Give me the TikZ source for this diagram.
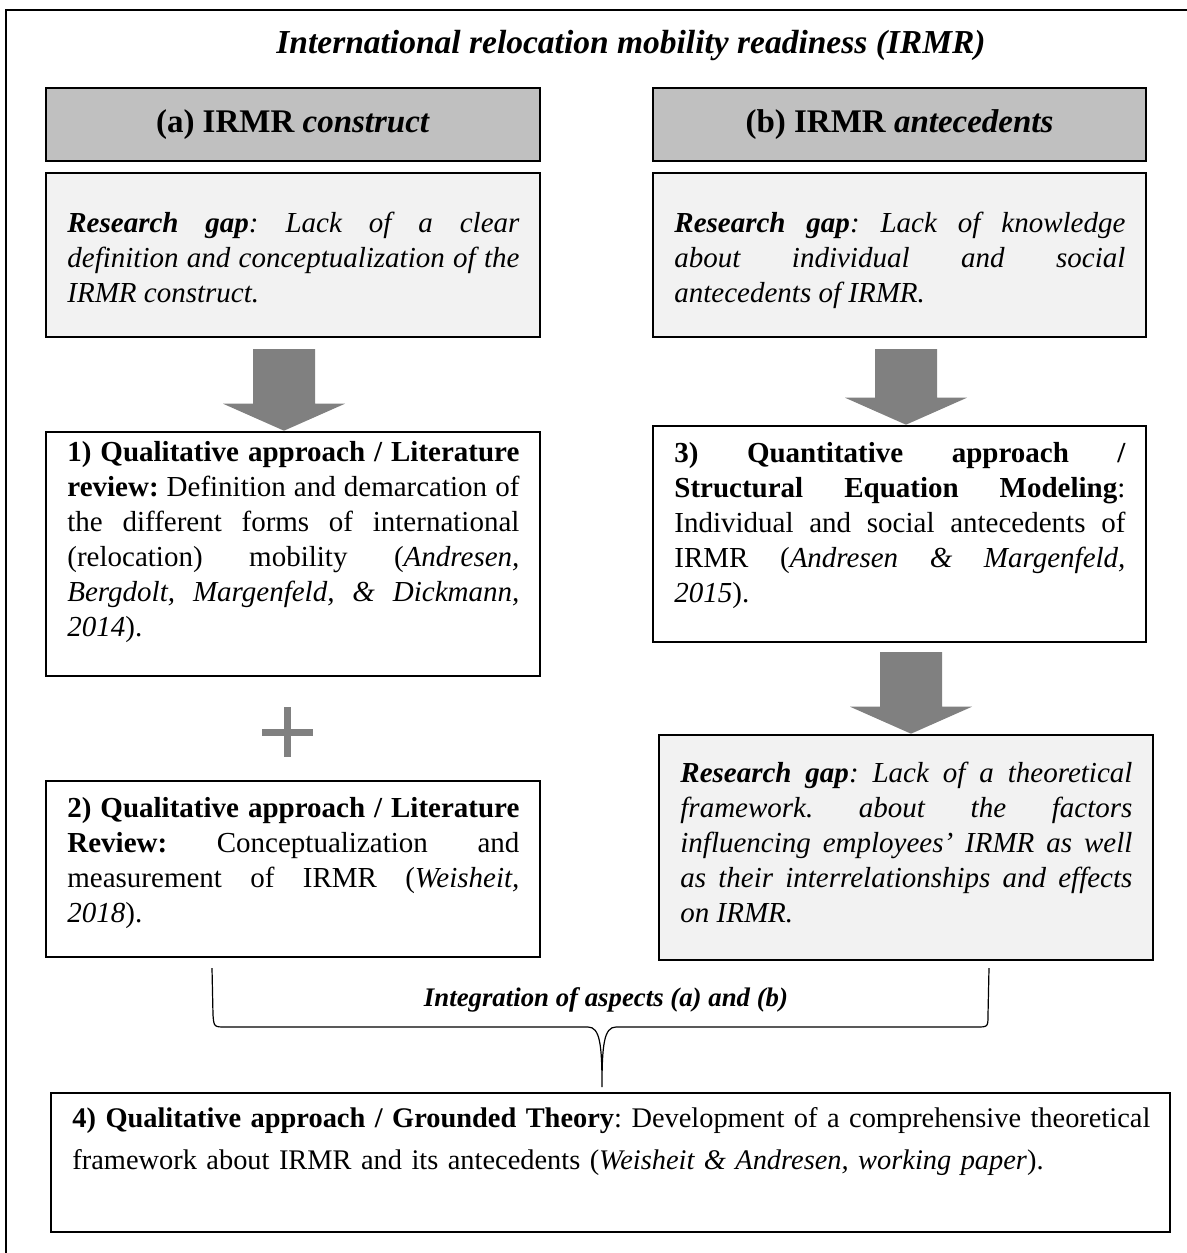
\documentclass[tikz,border=0pt]{standalone}
\usepackage{fontspec}
\setmainfont{Liberation Serif}
\usetikzlibrary{fit,calc}
\definecolor{headgray}{RGB}{192,192,192}
\definecolor{gapgray}{RGB}{242,242,242}
\definecolor{arrowgray}{RGB}{128,128,128}

\tikzset{
  panel/.style={draw=black, line width=1.3pt, inner sep=0pt},
  headbox/.style={panel, fill=headgray},
  gapbox/.style={panel, fill=gapgray},
  plainbox/.style={panel, fill=white},
  bodytext/.style={inner sep=0pt, anchor=base west, align=justify,
    font=\fontsize{14.5}{17.5}\selectfont,
    execute at begin node={\frenchspacing\hyphenpenalty=10000\tolerance=9999\emergencystretch=2em}},
  headtext/.style={inner sep=0pt, font=\fontsize{16.5}{20}\selectfont\bfseries},
  blockarrow/.style={fill=arrowgray, draw=none},
}

% block arrow pointing down from a top-centre coordinate to a tip coordinate
\newcommand\downblock[2]{%
  \fill[blockarrow] ($(#1)+(-31,0)$) -- ($(#1)+(31,0)$) -- ($(#2)+(31,-27)$)
    -- ($(#2)+(61,-27)$) -- (#2) -- ($(#2)+(-61,-27)$) -- ($(#2)+(-31,-27)$) -- cycle;}

\begin{document}
\begin{tikzpicture}[x=0.5pt,y=-0.5pt]
\useasboundingbox (0,0) rectangle (1187,1253);

% outer frame
\draw[line width=1.3pt] (6,10) rectangle (1210,1275);

% title
\node[anchor=base, inner sep=0pt, font=\fontsize{16.75}{20}\selectfont\bfseries\itshape] (title) at (631,53)
  {International relocation mobility readiness (IRMR)};

% column headers
\node[headbox, fit={(46,88) (540,161)}] (ha) {};
\node[headtext] (hat) at (ha.center) {(a) IRMR \textit{construct}};
\node[headbox, fit={(653,88) (1146,161)}] (hb) {};
\node[headtext] (hbt) at (hb.center) {(b) IRMR \textit{antecedents}};

% research gap boxes
\node[gapbox, fit={(46,173) (540,337)}] (ga) {};
\node[bodytext, text width=226pt] (gat) at (67,232)
  {\textbf{\textit{Research gap}}\textit{: Lack of a clear\linebreak
   definition and conceptualization of the\linebreak IRMR construct.}};

\node[gapbox, fit={(653,173) (1146,337)}] (gb) {};
\node[bodytext, text width=225.5pt] (gbt) at (674,232)
  {\textbf{\textit{Research gap}}\textit{: Lack of knowledge\linebreak
   about individual and social\linebreak antecedents of IRMR.}};

% study 1
\node[plainbox, fit={(46,432) (540,676)}] (s1) {};
\node[bodytext, text width=226pt] (s1t) at (67,461)
  {\textbf{1) Qualitative approach / Literature\linebreak review:} Definition and demarcation of\linebreak
   the different forms of international\linebreak (relocation) mobility (\textit{Andresen,\linebreak
   Bergdolt, Margenfeld, \& Dickmann,\linebreak 2014}).};

% plus sign
\draw[arrowgray, line width=3.5pt] (262,732) -- (313,732);
\draw[arrowgray, line width=3.5pt] (287,707) -- (287,757);

% study 2
\node[plainbox, fit={(46,781) (540,957)}] (s2) {};
\node[bodytext, text width=226pt] (s2t) at (67,817)
  {\textbf{2) Qualitative approach / Literature\linebreak Review:} Conceptualization and\linebreak
   measurement of IRMR (\textit{Weisheit,\linebreak 2018}).};

% study 3
\node[plainbox, fit={(653,426) (1146,642)}] (s3) {};
\node[bodytext, text width=225.5pt] (s3t) at (674,462)
  {\textbf{3) Quantitative approach /\linebreak Structural Equation Modeling}:\linebreak
   Individual and social antecedents of\linebreak IRMR (\textit{Andresen \& Margenfeld,\linebreak 2015}).};

% remaining research gap
\node[gapbox, fit={(659,735) (1153,960)}] (gc) {};
\node[bodytext, text width=226pt] (gct) at (680,782)
  {\textbf{\textit{Research gap}}\textit{: Lack of a theoretical\linebreak
   framework. about the factors\linebreak influencing employees’ IRMR as well\linebreak
   as their interrelationships and effects\linebreak on IRMR.}};

% arrows between boxes
\coordinate (a1top) at (284,349);
\coordinate (a1tip) at ($(s1.north)+(-9,0)$);
\downblock{a1top}{a1tip}
\coordinate (b1top) at (906,349);
\coordinate (b1tip) at ($(s3.north)+(6.5,0)$);
\downblock{b1top}{b1tip}
\coordinate (b2top) at (911,652);
\coordinate (b2tip) at ($(gc.north)+(5,0)$);
\downblock{b2top}{b2tip}

% integrating brace
\coordinate (brl) at (212,968);
\coordinate (brr) at (989,968);
\coordinate (brtip) at (602,1087);
\draw[line width=0.6pt] (brl) -- (213,1015) .. controls (214,1027) .. (226,1027) -- (588,1027)
  .. controls (600,1027) and (602,1045) .. (brtip)
  .. controls (602,1045) and (604,1027) .. (616,1027) -- (976,1027)
  .. controls (988,1027) .. (988,1015) -- (brr);
\node[inner sep=0pt, font=\fontsize{13.4}{16}\selectfont\bfseries\itshape] (integ) at (606,1000)
  {Integration of aspects (a) and (b)};

% study 4
\node[plainbox, fit={(51,1093) (1170,1232)}] (s4) {};
\node[bodytext, align=left, text width=560pt, font=\fontsize{14.2}{21}\selectfont] (s4t) at (72,1127)
  {\textbf{4) Qualitative approach / Grounded Theory}: Development of a comprehensive theoretical\\
   framework about IRMR and its antecedents (\textit{Weisheit \& Andresen, working paper}).};
\end{tikzpicture}
\end{document}
